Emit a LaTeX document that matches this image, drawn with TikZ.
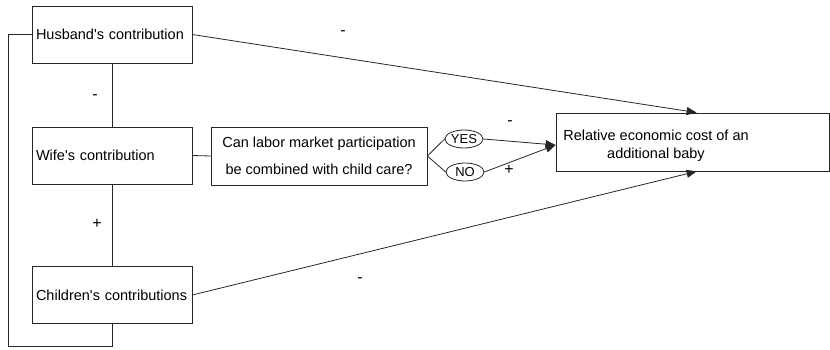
\documentclass[tikz,border=0pt]{standalone}
\usepackage{fontspec}
\setmainfont{Liberation Sans}
\usetikzlibrary{arrows.meta,shapes.geometric}

\begin{document}
\begin{tikzpicture}[x=1pt, y=-1pt, >={Triangle[length=10pt,width=8pt]}, line cap=round,
  every node/.style={font=\fontsize{14.5}{17.5}\selectfont},
  line/.style={draw=black!85, line width=0.8pt},
  factor/.style={line, rectangle, text width=152pt, align=left, inner xsep=4pt, minimum height=57pt},
  answer/.style={line, ellipse, minimum width=38pt, minimum height=18pt, inner sep=0pt, font=\fontsize{13}{14}\selectfont},
  sign/.style={font=\fontsize{16}{17}\selectfont}]
\useasboundingbox (0,0) rectangle (830,350);
\node[factor] (husband) at (112,34.5) {Husband\textquotesingle s contribution};
\node[factor] (wife) at (112,155.5) {Wife\textquotesingle s contribution};
\node[factor] (children) at (112,295) {Children\textquotesingle s contributions};
\node[line, minimum width=216pt, minimum height=58pt, align=center, font=\fontsize{14.5}{27}\selectfont] (question) at (319,156) {Can labor market participation\\be combined with child care?};
\node[answer] (yes) at (464,139) {YES};
\node[answer] (no) at (465,172) {NO};
\node[line, minimum width=273pt, minimum height=58pt] (cost) at (692.5,142) {};
\node[align=center, font=\fontsize{14.5}{18}\selectfont] (costtext) at (656,145.5) {Relative economic cost of an\\additional baby};
\draw[line] (husband.south) -- (wife.north);
\draw[line] (wife.south) -- (children.north);
\draw[line] (husband.west) -| (8,346) -| (children.south);
\draw[line] (wife.east) -- (question.west);
\draw[line] (question.east) -- (yes.west);
\draw[line] (question.east) -- (no.west);
\draw[line, ->] (yes.east) -- ([yshift=-3pt]cost.west);
\draw[line, ->] (no.east) -- ([yshift=-3pt]cost.west);
\draw[line, ->] (husband.east) -- ([xshift=141pt]cost.north west);
\draw[line, ->] (children.east) -- ([xshift=141pt]cost.south west);
\node[sign] (hwsign) at (95,97) {-};
\node[sign] (wcsign) at (97,224) {+};
\node[sign] (hcsign) at (343,33) {-};
\node[sign] (ccsign) at (360,280) {-};
\node[sign] (yessign) at (510,123) {-};
\node[sign] (nosign) at (509,170) {+};
\end{tikzpicture}
\end{document}
